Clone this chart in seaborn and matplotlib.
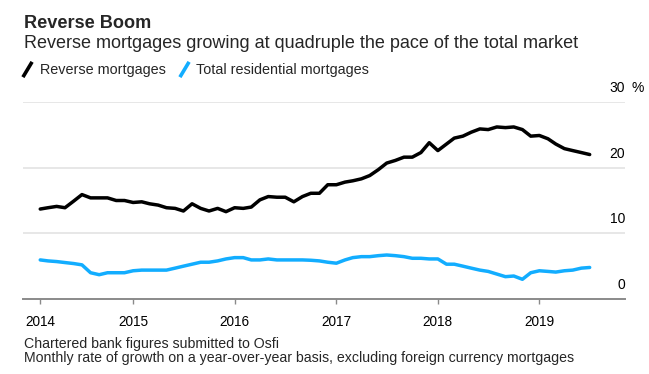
import pandas as pd
import matplotlib
matplotlib.use("Agg")
import matplotlib.pyplot as plt
from matplotlib.lines import Line2D
import seaborn as sns

# monthly year-over-year growth, %, Feb 2014 - Jul 2019
months = pd.date_range("2014-02-01", periods=66, freq="MS")

reverse = [13.7, 13.9, 14.1, 13.9, 14.9, 15.9, 15.4, 15.4, 15.4, 15.0, 15.0, 14.7,
           14.8, 14.5, 14.3, 13.9, 13.8, 13.4, 14.5, 13.8, 13.4, 13.8, 13.3, 13.9,
           13.8, 14.0, 15.1, 15.6, 15.5, 15.5, 14.8, 15.6, 16.1, 16.1, 17.4, 17.4,
           17.8, 18.0, 18.3, 18.8, 19.7, 20.7, 21.1, 21.6, 21.6, 22.3, 23.8, 22.6,
           23.6, 24.5, 24.8, 25.4, 25.9, 25.8, 26.2, 26.1, 26.2, 25.8, 24.8, 24.9,
           24.4, 23.6, 22.9, 22.6, 22.3, 22.0]

total = [5.95, 5.8, 5.7, 5.55, 5.4, 5.2, 4.0, 3.7, 4.0, 4.0, 4.0, 4.3,
         4.4, 4.4, 4.4, 4.4, 4.7, 5.0, 5.3, 5.6, 5.6, 5.8, 6.1, 6.3,
         6.3, 5.95, 5.95, 6.1, 5.95, 5.95, 5.95, 5.95, 5.9, 5.8, 5.6, 5.45,
         5.95, 6.3, 6.45, 6.45, 6.6, 6.7, 6.6, 6.45, 6.2, 6.2, 6.1, 6.1,
         5.3, 5.3, 5.0, 4.7, 4.4, 4.2, 3.8, 3.4, 3.5, 3.0, 4.0, 4.3,
         4.2, 4.1, 4.3, 4.4, 4.7, 4.8]

year_labels = ["2014", "2015", "2016", "2017", "2018", "2019"]
year_ticks = pd.to_datetime(["2014-02-01", "2015-01-01", "2016-01-01",
                             "2017-01-01", "2018-01-01", "2019-01-01"])
y_ticks = [0, 10, 20, 30]

df = pd.DataFrame({"month": months, "Reverse mortgages": reverse,
                   "Total residential mortgages": total})

BLUE = "#12adff"
sns.set_theme(style="white")
plt.rcParams["font.family"] = ["Liberation Sans", "DejaVu Sans"]

fig = plt.figure(figsize=(6.49, 3.74), dpi=100)
ax = fig.add_axes([23 / 649, 1 - 299 / 374, (625 - 23) / 649, (299 - 102) / 374])

sns.lineplot(data=df, x="month", y="Reverse mortgages", color="black", lw=2.5, ax=ax)
sns.lineplot(data=df, x="month", y="Total residential mortgages", color=BLUE, lw=2.5, ax=ax)

ax.set_ylim(0, 30)
ax.set_xlim(pd.Timestamp("2013-12-01"), pd.Timestamp("2019-11-05"))
ax.set_xlabel("")
ax.set_ylabel("")

# light gridlines, darker baseline
for v in y_ticks[1:]:
    ax.axhline(v, color="#e3e3e3", lw=1.2, zorder=0)
for s in ["top", "right", "left"]:
    ax.spines[s].set_visible(False)
ax.spines["bottom"].set_color("#8a8a8a")
ax.spines["bottom"].set_linewidth(1.4)

ax.set_yticks([])
ax.set_xticks(year_ticks)
ax.set_xticklabels(year_labels)
ax.tick_params(axis="x", length=3.8, width=1, color="#8a8a8a", pad=8, labelsize=9.8,
               labelcolor="black", bottom=True)

# y labels sit above the gridlines on the right
for v in y_ticks:
    ax.annotate(str(v), xy=(1.0, v), xycoords=("axes fraction", "data"),
                xytext=(0, 10), textcoords="offset points",
                ha="right", va="center", fontsize=10, color="black")
ax.annotate("%", xy=(1.0, y_ticks[-1]), xycoords=("axes fraction", "data"),
            xytext=(4.5, 10), textcoords="offset points",
            ha="left", va="center", fontsize=10, color="black")

fig.text(24 / 649, 1 - 27.5 / 374, "Reverse Boom", fontsize=13.1, fontweight="bold",
         va="baseline", ha="left")
fig.text(24 / 649, 1 - 47.7 / 374,
         "Reverse mortgages growing at quadruple the pace of the total market",
         fontsize=13, va="baseline", ha="left")

slash = [(-0.6, -1), (0.6, 1)]
handles = [Line2D([], [], color="black", marker=slash, linestyle="none",
                  markersize=11, markeredgewidth=2.6),
           Line2D([], [], color=BLUE, marker=slash, linestyle="none",
                  markersize=11, markeredgewidth=2.6)]
fig.legend(handles, ["Reverse mortgages", "Total residential mortgages"],
           loc="center left", bbox_to_anchor=(20 / 649, 1 - 70 / 374), ncol=2,
           frameon=False, fontsize=10.4, handlelength=1.0, handletextpad=0.35,
           columnspacing=0.8, borderpad=0, borderaxespad=0)

fig.text(24 / 649, 1 - 344 / 374, "Chartered bank figures submitted to Osfi",
         fontsize=10.2, va="center", ha="left")
fig.text(24 / 649, 1 - 358 / 374,
         "Monthly rate of growth on a year-over-year basis, excluding foreign currency mortgages",
         fontsize=10.2, va="center", ha="left")

fig.savefig("out.png", dpi=100)
